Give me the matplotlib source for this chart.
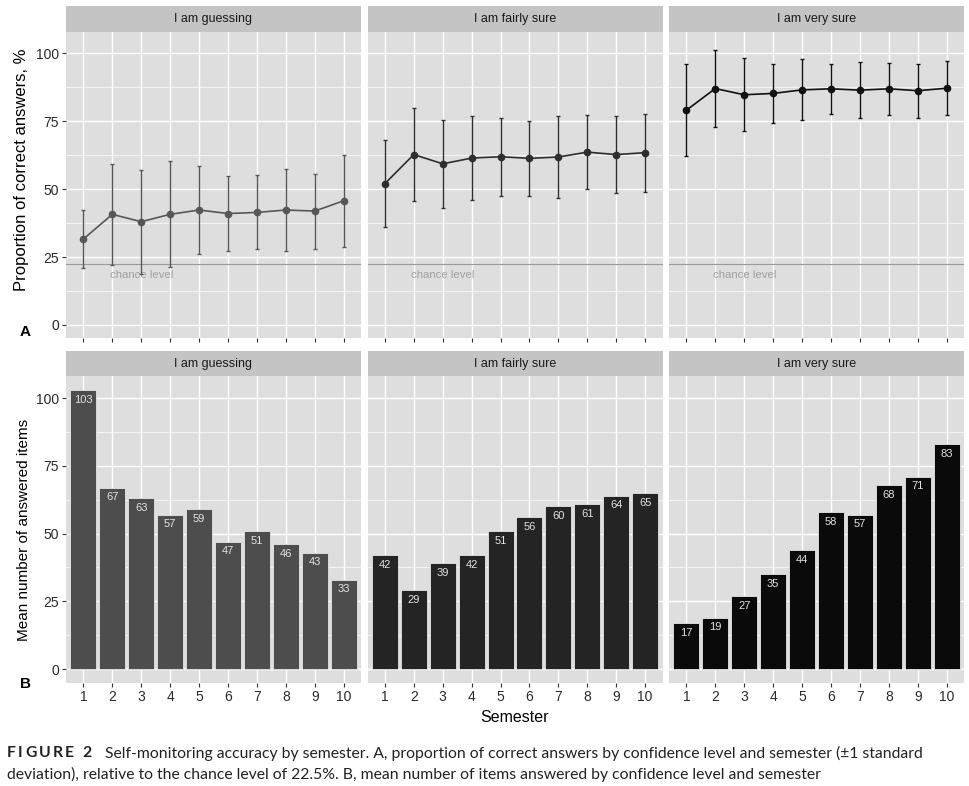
import numpy as np
import matplotlib
matplotlib.use("Agg")
import matplotlib.pyplot as plt

plt.rcParams['font.family'] = ['Liberation Sans', 'DejaVu Sans']

semesters = [1, 2, 3, 4, 5, 6, 7, 8, 9, 10]
panels = ["I am guessing", "I am fairly sure", "I am very sure"]

# A: proportion correct (mean, sd)
guess_mean = [31.6, 40.7, 38.0, 40.7, 42.3, 41.0, 41.4, 42.3, 41.9, 45.7]
guess_sd = [10.6, 18.6, 19.1, 19.5, 16.3, 13.8, 13.6, 15.0, 13.8, 16.9]
fair_mean = [52.0, 62.7, 59.3, 61.4, 61.9, 61.3, 61.8, 63.6, 62.7, 63.4]
fair_sd = [15.9, 17.0, 16.2, 15.4, 14.4, 13.9, 15.0, 13.7, 14.3, 14.3]
very_mean = [79.0, 87.0, 84.7, 85.2, 86.5, 86.9, 86.4, 86.9, 86.2, 87.1]
very_sd = [17.0, 14.2, 13.5, 11.0, 11.2, 9.1, 10.4, 9.6, 9.9, 9.9]
chance = 22.5

# B: mean number of answered items
guess_n = [103, 67, 63, 57, 59, 47, 51, 46, 43, 33]
fair_n = [42, 29, 39, 42, 51, 56, 60, 61, 64, 65]
very_n = [17, 19, 27, 35, 44, 58, 57, 68, 71, 83]

means = [guess_mean, fair_mean, very_mean]
sds = [guess_sd, fair_sd, very_sd]
counts = [guess_n, fair_n, very_n]
line_cols = ["#575757", "#2e2e2e", "#111111"]
bar_cols = ["#4d4d4d", "#242424", "#0a0a0a"]

W, H = 969, 786
fig = plt.figure(figsize=(W / 100, H / 100), dpi=100)

def rect(l, t, r, b):
    return [l / W, 1 - b / H, (r - l) / W, (b - t) / H]

def fy(y):
    return 1 - y / H

cols = [(66, 361), (367.5, 662.5), (669, 964)]
panel_bg = "#dedede"
strip_bg = "#c4c4c4"

def style_axes(ax, first, show_xlabels):
    ax.set_facecolor(panel_bg)
    for s in ax.spines.values():
        s.set_visible(False)
    ax.set_xlim(0.4, 10.6)
    ax.set_xticks(semesters)
    ax.set_yticks([0, 25, 50, 75, 100])
    ax.set_yticks([12.5, 37.5, 62.5, 87.5], minor=True)
    ax.grid(True, which='major', color='white', lw=1.0)
    ax.grid(True, which='minor', axis='y', color='white', lw=0.5)
    ax.set_axisbelow(True)
    ax.tick_params(axis='both', which='major', length=3, width=0.8,
                   color='#333333', labelsize=10, labelcolor='#2a2a2a', pad=2)
    ax.tick_params(axis='y', which='minor', length=0)
    if not first:
        ax.tick_params(axis='y', length=0, labelleft=False)
    if not show_xlabels:
        ax.tick_params(axis='x', labelbottom=False)

def strip(l, t, r, b, label):
    sax = fig.add_axes(rect(l, t, r, b))
    sax.set_facecolor(strip_bg)
    sax.set_xticks([])
    sax.set_yticks([])
    for s in sax.spines.values():
        s.set_visible(False)
    sax.text(0.5, 0.5, label, ha='center', va='center', fontsize=9, color='#1a1a1a',
             transform=sax.transAxes)

# ---- panel A ----
for i, (l, r) in enumerate(cols):
    strip(l, 6, r, 32, panels[i])
    ax = fig.add_axes(rect(l, 32, r, 338))
    style_axes(ax, i == 0, False)
    ax.set_ylim(-4.8, 107.8)
    ax.axhline(chance, color='#9a9a9a', lw=0.8, zorder=2)
    ax.text(3, chance - 4, "chance level", ha='center', va='center', fontsize=8.2,
            color='#a0a0a0')
    ax.errorbar(semesters, means[i], yerr=sds[i], color=line_cols[i], lw=1.2,
                elinewidth=1.0, capsize=1.5, capthick=1.0, marker='o', ms=4.5, zorder=3)

# ---- panel B ----
for i, (l, r) in enumerate(cols):
    strip(l, 351, r, 376, panels[i])
    ax = fig.add_axes(rect(l, 376, r, 683))
    style_axes(ax, i == 0, True)
    ax.set_ylim(-5.15, 108.15)
    ax.bar(semesters, counts[i], width=0.9, color=bar_cols[i], edgecolor='#e6e6e6',
           lw=0.6, zorder=3)
    for x, v in zip(semesters, counts[i]):
        ax.text(x, v - 3.6, str(v), ha='center', va='center', fontsize=8,
                color='#e2e2e2', zorder=4)

fig.text(22 / W, fy(170), "Proportion of correct answers, %", fontsize=12,
         rotation=90, ha='center', va='center')
fig.text(24 / W, fy(530), "Mean number of answered items", fontsize=11,
         rotation=90, ha='center', va='center')
fig.text(20 / W, fy(332), "A", fontsize=11, fontweight='bold', ha='left', va='center')
fig.text(20 / W, fy(684), "B", fontsize=11, fontweight='bold', ha='left', va='center')
fig.text(515 / W, fy(717), "Semester", fontsize=11.5, ha='center', va='center')

# caption
cap_font = ['Lato', 'DejaVu Sans']
cap_size = 11.3
fig.canvas.draw()
renderer = fig.canvas.get_renderer()
x = 7
for ch in "FIGURE 2":
    if ch == " ":
        x += 6
        continue
    t = fig.text(x / W, fy(753), ch, fontsize=cap_size, family=cap_font,
                 fontweight='bold', color='#222222', va='center', ha='left')
    x = t.get_window_extent(renderer).x1 + 2.2
fig.text((x + 12) / W, fy(753),
         "Self-monitoring accuracy by semester. A, proportion of correct answers by "
         "confidence level and semester (\u00b11 standard",
         fontsize=cap_size, family=cap_font, color='#222222', va='center', ha='left')
fig.text(7 / W, fy(774),
         "deviation), relative to the chance level of 22.5%. B, mean number of items "
         "answered by confidence level and semester",
         fontsize=cap_size, family=cap_font, color='#222222', va='center', ha='left')

fig.savefig("out.png", dpi=100)
